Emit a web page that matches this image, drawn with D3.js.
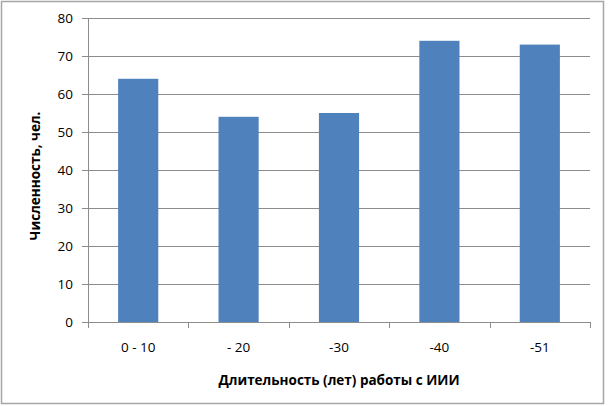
<!DOCTYPE html>
<html>
<head>
  <meta charset="utf-8" />
  <script src="https://d3js.org/d3.v7.min.js"></script>
  <style>
    * { margin: 0; padding: 0; box-sizing: border-box; }
    body { background: #fff; }
    svg { display: block; }
    text { font-family: "Open Sans", "DejaVu Sans", sans-serif; fill: #000; }
  </style>
</head>
<body>
  <svg width="608" height="406"></svg>

  <script>
    // data
    const categories = ["0 - 10", "- 20", "-30", "-40", "-51"];
    const values = [64, 54, 55, 74, 73];
    const yTicks = [0, 10, 20, 30, 40, 50, 60, 70, 80];

    const svg = d3.select("svg");
    const margin = { top: 18, right: 18, bottom: 84, left: 88 };
    const width = 608 - margin.left - margin.right;
    const height = 406 - margin.top - margin.bottom;

    // outer frame
    svg.append("rect")
      .attr("x", 1.5).attr("y", 1.5)
      .attr("width", 602).attr("height", 402)
      .attr("fill", "#fff")
      .attr("stroke", "#a6a6a6")
      .attr("stroke-width", 1.5);

    const g = svg.append("g").attr("transform", `translate(${margin.left},${margin.top})`);

    const x = d3.scaleBand().domain(categories).range([0, width]).paddingInner(0.6).paddingOuter(0.3);
    const y = d3.scaleLinear().domain([0, 80]).range([height, 0]);

    // gridlines
    g.selectAll(".grid")
      .data(yTicks.filter(d => d > 0))
      .join("line")
      .attr("x1", 0).attr("x2", width)
      .attr("y1", d => Math.round(y(d)) + 0.5).attr("y2", d => Math.round(y(d)) + 0.5)
      .attr("stroke", "#8c8c8c");

    // bars
    g.selectAll(".bar")
      .data(values)
      .join("rect")
      .attr("x", (d, i) => x(categories[i]))
      .attr("width", x.bandwidth())
      .attr("y", d => y(d))
      .attr("height", d => height - y(d))
      .attr("fill", "#4f81bd");

    // y axis
    const yAxis = g.append("g")
      .call(d3.axisLeft(y).tickValues(yTicks).tickSize(6).tickPadding(9));
    yAxis.select(".domain").attr("stroke", "#8c8c8c").attr("d", `M0.5,0V${height}`);
    yAxis.selectAll(".tick line").attr("stroke", "#8c8c8c");
    yAxis.selectAll(".tick text").attr("font-size", 13.5).attr("fill", "#000");

    // x axis: ticks sit on category boundaries
    const xAxis = g.append("g").attr("transform", `translate(0,${height})`);
    xAxis.append("line")
      .attr("x1", 0).attr("x2", width)
      .attr("y1", 0.5).attr("y2", 0.5)
      .attr("stroke", "#8c8c8c");
    xAxis.selectAll(".xtick")
      .data(d3.range(categories.length + 1))
      .join("line")
      .attr("x1", i => Math.round(i * x.step()) + 0.5)
      .attr("x2", i => Math.round(i * x.step()) + 0.5)
      .attr("y1", 0).attr("y2", 6)
      .attr("stroke", "#8c8c8c");
    xAxis.selectAll(".xlabel")
      .data(categories)
      .join("text")
      .attr("x", d => x(d) + x.bandwidth() / 2)
      .attr("y", 30)
      .attr("text-anchor", "middle")
      .attr("font-size", 13.5)
      .text(d => d);

    // axis titles
    svg.append("text")
      .attr("x", margin.left + width / 2)
      .attr("y", 385)
      .attr("text-anchor", "middle")
      .attr("font-size", 13.5)
      .attr("font-weight", "bold")
      .text("Длительность (лет) работы с ИИИ");

    svg.append("text")
      .attr("transform", "translate(40,176) rotate(-90)")
      .attr("text-anchor", "middle")
      .attr("font-size", 13.5)
      .attr("font-weight", "bold")
      .text("Численность, чел.");
  </script>
</body>
</html>
